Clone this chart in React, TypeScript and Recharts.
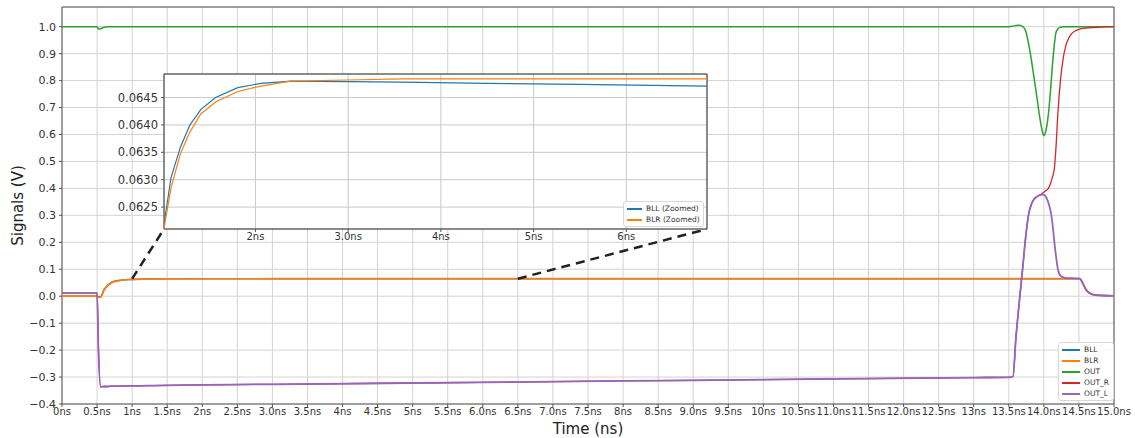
import React from 'react';
import { LineChart, Line, XAxis, YAxis, CartesianGrid, ReferenceArea, ReferenceLine, Legend } from 'recharts';

const FONT = "'DejaVu Sans', sans-serif";
const C_BLL = '#1f77b4';
const C_BLR = '#ff7f0e';
const C_OUT = '#2ca02c';
const C_OUTR = '#d62728';
const C_OUTL = '#9467bd';

// ---- main chart data (time in ns, signals in V) ----
const time = [0, 0.49, 0.5, 0.52, 0.55, 0.6, 0.65, 0.7, 0.8, 0.9,
  1.0, 1.2, 1.5, 2.0, 3.0, 5, 7, 9, 11, 13,
  13.5, 13.56, 13.6, 13.65, 13.7, 13.74, 13.78, 13.82, 13.86, 13.9,
  13.94, 13.98, 14.0, 14.02, 14.06, 14.1, 14.12, 14.15, 14.17, 14.2,
  14.24, 14.28, 14.31, 14.35, 14.4, 14.45, 14.5, 14.52, 14.56, 14.6,
  14.65, 14.7, 14.8, 14.9, 15.0];

const bll = [0, 0, 0, -0.003, -0.002, 0.025, 0.04, 0.05, 0.058, 0.0612,
  0.0622, 0.0637, 0.0645, 0.0647, 0.06479, 0.06475, 0.06472, 0.0647, 0.0647, 0.0647,
  0.0647, 0.0647, 0.0647, 0.0647, 0.0647, 0.0647, 0.0647, 0.0647, 0.0647, 0.0647,
  0.0647, 0.0647, 0.0647, 0.0647, 0.0647, 0.0647, 0.0647, 0.0647, 0.0647, 0.0647,
  0.0647, 0.0647, 0.0647, 0.0647, 0.0647, 0.0647, 0.0646, 0.063, 0.045, 0.025,
  0.012, 0.006, 0.003, 0.002, 0.001];

const blr = [0, 0, 0, -0.004, -0.004, 0.022, 0.038, 0.049, 0.057, 0.061,
  0.0621, 0.0636, 0.0644, 0.0647, 0.06482, 0.06484, 0.06484, 0.06484, 0.06484, 0.06484,
  0.06484, 0.06484, 0.06484, 0.06484, 0.06484, 0.06484, 0.06484, 0.06484, 0.06484, 0.06484,
  0.06484, 0.06484, 0.06484, 0.06484, 0.06484, 0.06484, 0.06484, 0.06484, 0.06484, 0.06484,
  0.06484, 0.06484, 0.06484, 0.06484, 0.06484, 0.06484, 0.0646, 0.063, 0.045, 0.025,
  0.012, 0.006, 0.003, 0.002, 0.001];

const out = [1, 1, 1, 0.991, 0.992, 0.998, 1, 1, 1, 1,
  1, 1, 1, 1, 1, 1, 1, 1, 1, 1,
  1, 1.002, 1.004, 1.005, 1.0, 0.985, 0.94, 0.88, 0.81, 0.74,
  0.665, 0.61, 0.595, 0.605, 0.665, 0.78, 0.85, 0.935, 0.975, 0.992,
  0.998, 1, 1, 1, 1, 1, 1, 1, 1, 1,
  1, 1, 1, 1, 1];

const outR = [0.012, 0.012, 0.012, -0.2, -0.336, -0.335, -0.335, -0.334, -0.334, -0.333,
  -0.333, -0.332, -0.331, -0.329, -0.327, -0.322, -0.317, -0.312, -0.307, -0.302,
  -0.301, -0.298, -0.16, -0.02, 0.11, 0.218, 0.3, 0.34, 0.36, 0.369,
  0.375, 0.382, 0.386, 0.39, 0.398, 0.422, 0.44, 0.475, 0.54, 0.68,
  0.81, 0.89, 0.926, 0.955, 0.975, 0.985, 0.99, 0.992, 0.994, 0.995,
  0.996, 0.997, 0.998, 0.999, 1.0];

const outL = [0.012, 0.012, 0.012, -0.2, -0.336, -0.335, -0.335, -0.334, -0.334, -0.333,
  -0.333, -0.332, -0.331, -0.329, -0.327, -0.322, -0.317, -0.312, -0.307, -0.302,
  -0.301, -0.298, -0.16, -0.02, 0.11, 0.218, 0.3, 0.34, 0.36, 0.369,
  0.375, 0.377, 0.376, 0.372, 0.35, 0.31, 0.275, 0.2, 0.155, 0.1,
  0.075, 0.07, 0.068, 0.067, 0.067, 0.066, 0.066, 0.064, 0.045, 0.025,
  0.012, 0.006, 0.003, 0.002, 0.001];

const xTicks = [0, 0.5, 1, 1.5, 2, 2.5, 3, 3.5, 4, 4.5, 5, 5.5, 6, 6.5, 7, 7.5, 8, 8.5, 9, 9.5,
  10, 10.5, 11, 11.5, 12, 12.5, 13, 13.5, 14, 14.5, 15];
const xTickLabels = ['0ns', '0.5ns', '1ns', '1.5ns', '2ns', '2.5ns', '3.0ns', '3.5ns', '4ns', '4.5ns',
  '5ns', '5.5ns', '6.0ns', '6.5ns', '7.0ns', '7.5ns', '8ns', '8.5ns', '9.0ns', '9.5ns',
  '10ns', '10.5ns', '11.0ns', '11.5ns', '12.0ns', '12.5ns', '13ns', '13.5ns', '14.0ns', '14.5ns', '15.0ns'];
const yTicks = [-0.4, -0.3, -0.2, -0.1, 0, 0.1, 0.2, 0.3, 0.4, 0.5, 0.6, 0.7, 0.8, 0.9, 1.0];
const yTickLabels = ['\u22120.4', '\u22120.3', '\u22120.2', '\u22120.1', '0.0', '0.1', '0.2', '0.3', '0.4',
  '0.5', '0.6', '0.7', '0.8', '0.9', '1.0'];

// ---- inset (zoomed BLL/BLR) data ----
const insetTime = [1.014, 1.025, 1.09, 1.19, 1.29, 1.41, 1.57, 1.81, 2.06, 2.38, 3.0, 3.57, 4.5, 5.5, 6.87];
const insetBLL = [0.0621, 0.06231, 0.06304, 0.06359, 0.06399, 0.06428, 0.0645, 0.06468, 0.06476, 0.0648,
  0.06479, 0.06478, 0.06476, 0.06474, 0.06471];
const insetBLR = [0.0621, 0.06222, 0.06285, 0.06347, 0.06386, 0.0642, 0.06442, 0.06461, 0.06471, 0.0648,
  0.06482, 0.06484, 0.06484, 0.06484, 0.06484];
const insetXTicks = [2, 3, 4, 5, 6];
const insetXTickLabels = ['2ns', '3.0ns', '4ns', '5ns', '6ns'];
const insetYTicks = [0.0625, 0.063, 0.0635, 0.064, 0.0645];
const insetYTickLabels = ['0.0625', '0.0630', '0.0635', '0.0640', '0.0645'];
const insetXDomain = [1.014, 6.87];
const insetYDomain = [0.0621, 0.06493];
const zoomFrom = [1.0, 6.5]; // connector anchor times on main chart
const zoomLevel = 0.0648;

// ---- layout ----
const W = 1135, H = 438;
const M_TOP = 7, M_RIGHT = 21, Y_W = 62, X_H = 34;
const PLOT_L = Y_W, PLOT_R = W - M_RIGHT, PLOT_T = M_TOP, PLOT_B = H - X_H;
const X_DOMAIN = [0, 15];
const Y_DOMAIN = [-0.4, 1.073];
const INSET_L = 164, INSET_T = 74, INSET_W = 543, INSET_H = 155;
const IN_YW = 60, IN_XH = 22, IN_MT = 2, IN_MR = 4;

const pxToT = (px) => X_DOMAIN[0] + (px - PLOT_L) / (PLOT_R - PLOT_L) * (X_DOMAIN[1] - X_DOMAIN[0]);
const pyToV = (py) => Y_DOMAIN[1] - (py - PLOT_T) / (PLOT_B - PLOT_T) * (Y_DOMAIN[1] - Y_DOMAIN[0]);

const mainData = time.map((t, i) => ({ t, BLL: bll[i], BLR: blr[i], OUT: out[i], OUT_R: outR[i], OUT_L: outL[i] }));
const insetData = insetTime.map((t, i) => ({ t, BLL: insetBLL[i], BLR: insetBLR[i] }));

const mainItems = [
  { name: 'BLL', color: C_BLL }, { name: 'BLR', color: C_BLR }, { name: 'OUT', color: C_OUT },
  { name: 'OUT_R', color: C_OUTR }, { name: 'OUT_L', color: C_OUTL },
];
const insetItems = [{ name: 'BLL (Zoomed)', color: C_BLL }, { name: 'BLR (Zoomed)', color: C_BLR }];

const LegendBox = ({ items, lineLen, width }) => (
  <div style={{
    width, boxSizing: 'border-box', background: 'rgba(255,255,255,0.85)', border: '1px solid #d8d8d8',
    borderRadius: 3, padding: '1px 3px', fontFamily: FONT, fontSize: 7.5, color: '#333', lineHeight: '11px',
  }}>
    {items.map((it) => (
      <div key={it.name} style={{ display: 'flex', alignItems: 'center', height: 11 }}>
        <svg width={lineLen} height={4} style={{ flex: 'none' }}>
          <line x1={0} y1={2} x2={lineLen} y2={2} stroke={it.color} strokeWidth={2} />
        </svg>
        <span style={{ marginLeft: 4, whiteSpace: 'nowrap' }}>{it.name}</span>
      </div>
    ))}
  </div>
);

const YLabel = (props) => {
  const vb = props.viewBox || { y: PLOT_T, height: PLOT_B - PLOT_T };
  const x = 18;
  const cy = vb.y + vb.height / 2;
  return (
    <text x={x} y={cy} transform={`rotate(-90, ${x}, ${cy})`} textAnchor="middle" dominantBaseline="central"
      fontFamily={FONT} fontSize={15} fill="#222">Signals (V)</text>
  );
};

const tickStyle = { fontFamily: FONT, fontSize: 10, fill: '#333' };

export default function App() {
  const cornerL = { x: pxToT(INSET_L), y: pyToV(INSET_T + INSET_H) };
  const cornerR = { x: pxToT(INSET_L + INSET_W), y: pyToV(INSET_T + INSET_H) };
  return (
    <div style={{ position: 'absolute', left: 0, top: 0, width: W, height: H, background: '#fff' }}>
      <LineChart width={W} height={H} data={mainData} margin={{ top: M_TOP, right: M_RIGHT, left: 0, bottom: 0 }}>
        <CartesianGrid stroke="#d3d3d3" strokeWidth={1} />
        <XAxis dataKey="t" type="number" domain={X_DOMAIN} ticks={xTicks} interval={0} height={X_H}
          tickFormatter={(v, i) => xTickLabels[i]} tick={tickStyle} tickSize={3} tickMargin={1}
          axisLine={false} tickLine={{ stroke: '#555' }}
          label={{ value: 'Time (ns)', position: 'insideBottom', offset: 4, fontFamily: FONT, fontSize: 15, fill: '#222' }} />
        <YAxis type="number" domain={Y_DOMAIN} ticks={yTicks} interval={0} width={Y_W}
          tickFormatter={(v, i) => yTickLabels[i]} tick={{ ...tickStyle, fontSize: 11 }} tickSize={3} tickMargin={3}
          axisLine={false} tickLine={{ stroke: '#555' }} label={<YLabel />} />
        <ReferenceArea x1={X_DOMAIN[0]} x2={X_DOMAIN[1]} y1={Y_DOMAIN[0]} y2={Y_DOMAIN[1]} fill="none" stroke="#555" strokeWidth={1} />
        <Line dataKey="BLL" stroke={C_BLL} strokeWidth={1.5} dot={false} type="monotone" isAnimationActive={false} />
        <Line dataKey="BLR" stroke={C_BLR} strokeWidth={1.7} dot={false} type="monotone" isAnimationActive={false} />
        <Line dataKey="OUT" stroke={C_OUT} strokeWidth={1.5} dot={false} type="monotone" isAnimationActive={false} />
        <Line dataKey="OUT_R" stroke={C_OUTR} strokeWidth={1.3} dot={false} type="monotone" isAnimationActive={false} />
        <Line dataKey="OUT_L" stroke={C_OUTL} strokeWidth={1.8} dot={false} type="monotone" isAnimationActive={false} />
        <ReferenceLine segment={[{ x: zoomFrom[0], y: zoomLevel }, cornerL]} stroke="#222" strokeWidth={2.5} strokeDasharray="9 6" />
        <ReferenceLine segment={[{ x: zoomFrom[1], y: zoomLevel }, cornerR]} stroke="#222" strokeWidth={2.5} strokeDasharray="9 6" />
        <Legend layout="vertical" align="center" verticalAlign="middle"
          wrapperStyle={{ position: 'absolute', left: 1058, top: 342, width: 56 }}
          content={() => <LegendBox items={mainItems} lineLen={18} width={56} />} />
      </LineChart>

      <div style={{ position: 'absolute', left: INSET_L - IN_YW, top: INSET_T - IN_MT }}>
        <LineChart width={IN_YW + INSET_W + IN_MR} height={IN_MT + INSET_H + IN_XH} data={insetData}
          margin={{ top: IN_MT, right: IN_MR, left: 0, bottom: 0 }}>
          <CartesianGrid stroke="#c8c8c8" strokeWidth={1} fill="#ffffff" fillOpacity={1} />
          <XAxis dataKey="t" type="number" domain={insetXDomain} ticks={insetXTicks} interval={0} height={IN_XH}
            tickFormatter={(v, i) => insetXTickLabels[i]} tick={tickStyle} tickSize={3} tickMargin={1}
            axisLine={false} tickLine={{ stroke: '#555' }} allowDataOverflow />
          <YAxis type="number" domain={insetYDomain} ticks={insetYTicks} interval={0} width={IN_YW}
            tickFormatter={(v, i) => insetYTickLabels[i]} tick={{ ...tickStyle, fontSize: 11.5 }} tickSize={3} tickMargin={3}
            axisLine={false} tickLine={{ stroke: '#555' }} allowDataOverflow />
          <ReferenceArea x1={insetXDomain[0]} x2={insetXDomain[1]} y1={insetYDomain[0]} y2={insetYDomain[1]}
            fill="none" stroke="#333" strokeWidth={1} />
          <Line dataKey="BLL" stroke={C_BLL} strokeWidth={1.2} dot={false} type="linear" isAnimationActive={false} />
          <Line dataKey="BLR" stroke={C_BLR} strokeWidth={1.2} dot={false} type="linear" isAnimationActive={false} />
          <Legend layout="vertical" align="center" verticalAlign="middle"
            wrapperStyle={{ position: 'absolute', left: 623 - (INSET_L - IN_YW), top: 201 - (INSET_T - IN_MT), width: 81 }}
            content={() => <LegendBox items={insetItems} lineLen={15} width={81} />} />
        </LineChart>
      </div>
    </div>
  );
}
